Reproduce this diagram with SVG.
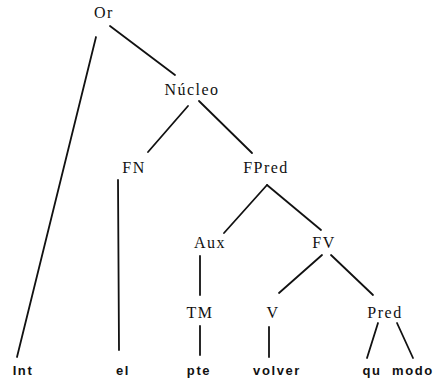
<svg xmlns="http://www.w3.org/2000/svg" width="444" height="388" viewBox="0 0 444 388">
<style>
.n{font-family:'Liberation Serif','DejaVu Serif','Times New Roman',serif;font-size:16px;letter-spacing:1.5px;text-anchor:middle;fill:#111}
.w{font-family:'Liberation Sans','DejaVu Sans',Arial,sans-serif;font-size:13px;font-weight:bold;letter-spacing:1.6px;text-anchor:middle;fill:#111}
.e line{stroke:#111;stroke-width:1.8;stroke-linecap:round}
</style>
<rect width="444" height="388" fill="#fff"/>
<g class="e" id="connectors">
<line x1="96" y1="37" x2="17" y2="357"/>
<line x1="110" y1="26" x2="175" y2="75"/>
<line x1="188" y1="106" x2="148" y2="152"/>
<line x1="199" y1="101" x2="252" y2="153"/>
<line x1="118" y1="180" x2="119" y2="350"/>
<line x1="267" y1="185" x2="224" y2="233"/>
<line x1="267" y1="185" x2="321" y2="230"/>
<line x1="200" y1="256" x2="200" y2="295"/>
<line x1="200" y1="326" x2="200" y2="355"/>
<line x1="322" y1="255" x2="279" y2="293"/>
<line x1="331" y1="255" x2="373" y2="295"/>
<line x1="269" y1="327" x2="269" y2="357"/>
<line x1="378" y1="323" x2="367" y2="358"/>
<line x1="397" y1="323" x2="413" y2="358"/>
</g>
<g id="Or"><text class="n" x="104" y="18">Or</text></g>
<g id="Nucleo"><text class="n" x="192" y="95">Núcleo</text></g>
<g id="FN"><text class="n" x="134" y="173">FN</text></g>
<g id="FPred"><text class="n" x="266" y="173">FPred</text></g>
<g id="Aux"><text class="n" x="210" y="248">Aux</text></g>
<g id="FV"><text class="n" x="324" y="248">FV</text></g>
<g id="TM"><text class="n" x="200" y="318">TM</text></g>
<g id="V"><text class="n" x="273" y="318">V</text></g>
<g id="Pred"><text class="n" x="385" y="318">Pred</text></g>
<g id="Int"><text class="w" x="23" y="375">Int</text></g>
<g id="el"><text class="w" x="123" y="375">el</text></g>
<g id="pte"><text class="w" x="199" y="375">pte</text></g>
<g id="volver"><text class="w" x="277" y="375">volver</text></g>
<g id="qu"><text class="w" x="372" y="375">qu</text></g>
<g id="modo"><text class="w" x="413" y="375">modo</text></g>
</svg>
